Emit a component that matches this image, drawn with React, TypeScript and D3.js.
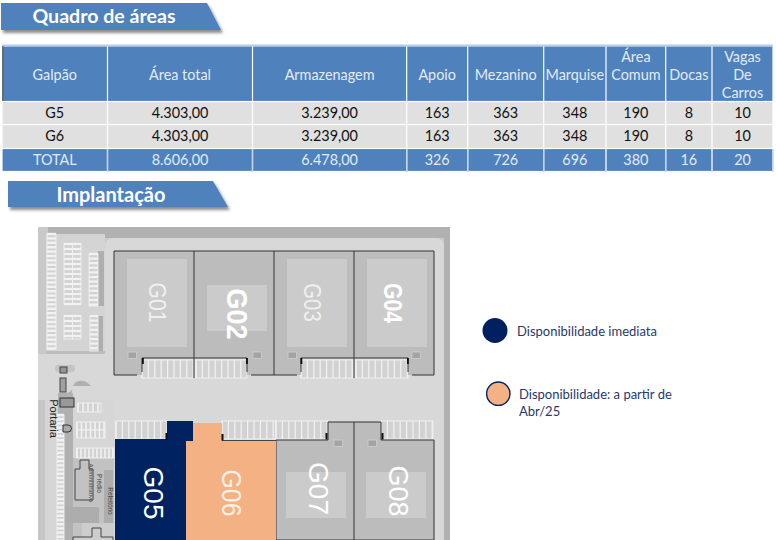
import * as d3 from "d3";
import { useEffect, useRef } from "react";

// Quadro de áreas
const columns = ["Galpão", "Área total", "Armazenagem", "Apoio", "Mezanino", "Marquise", "Área Comum", "Docas", "Vagas De Carros"];
const rowG5 = ["G5", "4.303,00", "3.239,00", "163", "363", "348", "190", "8", "10"];
const rowG6 = ["G6", "4.303,00", "3.239,00", "163", "363", "348", "190", "8", "10"];
const rowTotal = ["TOTAL", "8.606,00", "6.478,00", "326", "726", "696", "380", "16", "20"];

// Implantação
const topBuildings = ["G01", "G02", "G03", "G04"];
const bottomBuildings = ["G05", "G06", "G07", "G08"];
const legendLabels = [["Disponibilidade imediata"], ["Disponibilidade: a partir de", "Abr/25"]];

const width = 776;
const height = 540;
const BLUE = "#4f81bd";
const NAVY = "#002060";
const ORANGE = "#f4b183";
const UI_FONT = "Lato, 'Open Sans', sans-serif";
const PLAN_FONT = "'Liberation Sans', Arial, sans-serif";

const columnEdges = [2, 107.5, 252.5, 406.7, 467.7, 543.7, 606, 665.7, 712, 773];
const rowEdges = [46, 101.5, 124.5, 148.5, 171.5];

export default function App() {
  const ref = useRef<SVGSVGElement>(null);

  useEffect(() => {
    if (!ref.current) return;
    const svg = d3.select(ref.current);
    svg.selectAll("*").remove();

    const defs = svg.append("defs");
    defs.append("filter").attr("id", "ribbonShadow").attr("x", "-5%").attr("y", "-20%").attr("width", "110%").attr("height", "150%")
      .append("feDropShadow").attr("dx", 2).attr("dy", 3).attr("stdDeviation", 1.6).attr("flood-color", "#000").attr("flood-opacity", 0.45);
    defs.append("filter").attr("id", "soft").append("feGaussianBlur").attr("stdDeviation", 0.35);

    const ribbon = (x0: number, x1: number, x2: number, y0: number, y1: number, label: string, tx: number, ty: number, size: number) => {
      svg.append("path").attr("d", `M${x0},${y0}L${x1},${y0}L${x2},${y1}L${x0},${y1}Z`).attr("fill", BLUE).attr("filter", "url(#ribbonShadow)");
      svg.append("text").attr("x", tx).attr("y", ty).attr("text-anchor", "middle").attr("fill", "#fff").attr("font-family", UI_FONT).attr("font-weight", 700).attr("font-size", size).text(label);
    };
    ribbon(1, 207, 221, 3, 30, "Quadro de áreas", 104, 23, 19.6);
    ribbon(8, 213, 228, 181, 207, "Implantação", 111, 202, 20);

    // tabela
    const x = d3.scaleOrdinal<string, number>().domain(columns).range(columnEdges);
    const xEnd = d3.scaleOrdinal<string, number>().domain(columns).range(columnEdges.slice(1));
    const rows = [columns, rowG5, rowG6, rowTotal];
    const table = svg.append("g").attr("font-family", UI_FONT);
    table.append("rect").attr("x", 2).attr("y", 44.5).attr("width", 771).attr("height", 2).attr("fill", "#b8cce4");
    rows.forEach((row, r) => {
      const y0 = rowEdges[r];
      const y1 = rowEdges[r + 1];
      const dark = r === 0 || r === 3;
      row.forEach((cell, c) => {
        const col = columns[c];
        const cx0 = x(col);
        const cx1 = xEnd(col);
        table.append("rect").attr("x", cx0 + 0.6).attr("y", y0 + 0.6).attr("width", cx1 - cx0 - 1.2).attr("height", y1 - y0 - 1.2)
          .attr("fill", dark ? BLUE : "#e0e0e0");
        const lines = r === 0 && cell.includes(" ") && cell !== "Área total" ? cell.split(" ") : [cell];
        const mid = (y0 + y1) / 2 + (r === 0 ? 1.8 : 0);
        lines.forEach((line, i) => {
          // células de várias linhas começam no topo
          const dy = lines.length > 1 ? (i - 1) * 18 : 0;
          table.append("text").attr("x", (cx0 + cx1) / 2).attr("y", mid + dy + 4.6)
            .attr("text-anchor", "middle").attr("font-size", 14.4)
            .attr("fill", dark ? "#e3ebf5" : "#111").text(line);
        });
      });
    });
    table.append("rect").attr("x", 2.2).attr("y", 46).attr("width", 1.2).attr("height", 55).attr("fill", "#555");
    table.selectAll("rect.edge").data(columnEdges.slice(1)).join("rect").attr("class", "edge")
      .attr("x", (d) => d - 0.7).attr("y", 149).attr("width", 1.4).attr("height", 23).attr("fill", "#c5d5ea");

    // planta
    const plan = svg.append("g").attr("filter", "url(#soft)");
    const rect = (x0: number, y0: number, x1: number, y1: number, fill: string, rx = 0) =>
      plan.append("rect").attr("x", x0).attr("y", y0).attr("width", x1 - x0).attr("height", y1 - y0).attr("fill", fill).attr("rx", rx);
    const line = (x0: number, y0: number, x1: number, y1: number, stroke = "#333", w = 1) =>
      plan.append("line").attr("x1", x0).attr("y1", y0).attr("x2", x1).attr("y2", y1).attr("stroke", stroke).attr("stroke-width", w);

    rect(38, 227, 450, 540, "#c9c9c9");
    rect(48, 227, 450, 238, "#b1b1b1");
    rect(48, 238, 91, 243, "#b1b1b1");
    rect(91, 238, 105, 243, "#b8b8b8");
    rect(444, 238, 450, 540, "#b1b1b1");
    rect(105, 238, 444, 560, "#d8d8d8", 8);
    rect(46, 234, 105, 351, "#d4d4d4");
    rect(46, 351, 105, 354, "#bdbdbd");
    rect(38, 354, 105, 400, "#d8d8d8");
    rect(105, 354, 114, 540, "#d8d8d8");
    rect(38, 400, 45, 540, "#c6c6c6");
    rect(45, 400, 114, 540, "#d6d6d6");
    // acesso e pátio à esquerda
    plan.append("path").attr("d", "M58,415V393H66Q72,393 73,386H91Q84,378 76,382Q72,384 72,393H73V465H64V415Z").attr("fill", "#b0b0b0");
    rect(55, 365, 75, 372, "#c4c4c4", 3);
    rect(73, 458, 114, 540, "#c2c2c2");
    rect(64, 465, 73, 540, "#b0b0b0");
    rect(64, 507, 99, 523, "#adadad");
    rect(104, 470, 113, 523, "#adadad");
    rect(82, 523, 114, 540, "#cdcdcd");

    // vagas: blocos de faixas claras
    const stalls = (x0: number, y0: number, x1: number, y1: number, step: number, vertical: boolean, w = 1.2, fill = "#d2d2d2") => {
      rect(x0, y0, x1, y1, fill);
      const n = Math.floor((vertical ? x1 - x0 : y1 - y0) / step);
      d3.range(n + 1).forEach((i) => {
        if (vertical) line(x0 + i * step, y0, x0 + i * step, y1, "#f2f2f2", w);
        else line(x0, y0 + i * step, x1, y0 + i * step, "#f2f2f2", w);
      });
      plan.append("rect").attr("x", x0).attr("y", y0).attr("width", x1 - x0).attr("height", y1 - y0).attr("fill", "none").attr("stroke", "#f2f2f2").attr("stroke-width", 0.9);
    };
    stalls(47, 234, 56, 349, 4.4, false, 2.4);
    rect(98, 251, 104, 306, "#aeaeae");
    rect(98, 316, 103, 351, "#aeaeae");
    stalls(89, 254, 98, 306, 4.6, false, 2.2);
    stalls(90, 316, 98, 351, 4.6, false, 2.2);
    stalls(64, 244, 72.5, 304, 5, false, 2.2);
    stalls(72.5, 244, 81, 304, 5, false, 2.2);
    stalls(64, 316, 72.5, 339, 5, false, 2.2);
    stalls(72.5, 316, 81, 339, 5, false, 2.2);
    stalls(57, 415, 64, 540, 4.2, false, 2.4);
    stalls(78, 403, 101, 412, 5, true, 1.6);
    stalls(77, 422, 105, 430, 4.5, true, 1.6);
    stalls(77, 430, 105, 438, 4.5, true, 1.6);
    stalls(77, 448, 113, 458, 4, true, 1.6);

    // portaria e prédios de apoio
    rect(60, 367, 67, 373, "#949494").attr("stroke", "#444");
    rect(60, 378, 66, 392, "#a0a0a0").attr("stroke", "#444");
    rect(60, 398, 74, 407, "#999").attr("stroke", "#333");
    plan.append("path").attr("d", "M63,425H68A3.5,3.5,0,0,1,68,432H63Z").attr("fill", "#aaa").attr("stroke", "#333");
    plan.append("path").attr("d", "M80,460H89V469H93V500H75V469H80Z").attr("fill", "#c2c2c2").attr("stroke", "#444");
    plan.append("path").attr("d", "M73,540V537H92V528H101V537H113V540").attr("fill", "#cdcdcd").attr("stroke", "#444");

    const rotated = (cx: number, cy: number, label: string, size: number, fill: string, weight = 400, stretch = 1) =>
      svg.append("text").attr("transform", `translate(${cx},${cy}) rotate(90) scale(${stretch},1)`).attr("text-anchor", "middle").attr("dominant-baseline", "central")
        .attr("font-family", PLAN_FONT).attr("font-size", size).attr("font-weight", weight).attr("fill", fill).text(label);

    // galpões de cima
    const topX = d3.scaleBand<string>().domain(topBuildings).range([114, 434]);
    const yTop = 251, yWing = 375, yDock = 358;
    stalls(142, 360, 193, 378, 6.4, true);
    stalls(196, 360, 247, 378, 6.4, true);
    stalls(301, 360, 353, 378, 6.4, true);
    stalls(356, 360, 408, 378, 6.4, true);
    plan.append("path").attr("d", `M114,${yTop}H434V${yWing}H408V${yDock}H301V${yWing}H247V${yDock}H142V${yWing}H114Z`).attr("fill", "#bcbcbc");
    plan.append("path")
      .attr("d", `M137,${yWing}H114V${yTop}H434V${yWing}H412M408,372V${yDock}H301V372M297,${yWing}H251M247,372V${yDock}H142V372`)
      .attr("fill", "none").attr("stroke", "#333");
    topBuildings.forEach((g) => {
      const x0 = topX(g)!;
      const inner = g === "G02" ? [285, 331] : [259, 347];
      rect(x0 + 13, inner[0], x0 + 73, inner[1], "#cbcbcb");
    });
    line(194, yTop, 194, 378);
    line(274, yTop, 274, yWing);
    line(354, yTop, 354, 378);
    [[128, 352], [253, 352], [288, 352], [412, 352]].forEach((d) => rect(d[0], d[1], d[0] + 8.5, d[1] + 6.5, "#a4a4a4").attr("stroke", "#cfcfcf").attr("stroke-width", 0.8));
    [[142, 358], [246, 358], [300.5, 358], [407, 358]].forEach((d) => rect(d[0], d[1], d[0] + 1.8, d[1] + 6, "#111"));

    // galpões de baixo
    const bottomWidths = [71, 90, 78, 80];
    const bottomEdges = [115, ...bottomWidths.map((_, i) => 115 + d3.sum(bottomWidths.slice(0, i + 1)))];
    const bottomX = d3.scaleOrdinal<string, number>().domain(bottomBuildings).range(bottomEdges);
    stalls(116, 421, 167, 439, 6.4, true);
    stalls(222, 421, 276, 439, 6.4, true);
    stalls(276, 421, 328, 439, 6.4, true);
    stalls(381, 421, 433, 439, 6.4, true);
    const yRoof = 440, yNotch = 422;
    plan.append("path").attr("d", `M276,${yRoof}H328V${yNotch}H381V${yRoof}H434V540H276Z`).attr("fill", "#bcbcbc").attr("stroke", "#333");
    line(354, yNotch, 354, 540);
    rect(bottomX("G05"), 439, bottomX("G06"), 540, NAVY);
    rect(167, 421, 193, 441, NAVY);
    rect(bottomX("G06"), 441, bottomX("G07"), 540, ORANGE);
    rect(193, 423, 222, 441, ORANGE);
    rect(222, 440, 276, 441, "#444");
    rect(286, 472, 346, 518, "#cbcbcb");
    rect(366, 472, 426, 518, "#cbcbcb");
    [[334, 440], [368, 440]].forEach((d) => rect(d[0], d[1], d[0] + 8.5, d[1] + 6.5, "#a4a4a4").attr("stroke", "#cfcfcf").attr("stroke-width", 0.8));
    [[165.5, 433], [221.5, 434], [325.5, 433], [381.5, 433]].forEach((d) => rect(d[0], d[1], d[0] + 2, d[1] + 6.5, "#111"));

    rotated(156.5, 302.5, "G01", 24, "#f0f0f0", 400, 0.88);
    rotated(236.5, 314, "G02", 29, "#fff", 700, 0.93);
    rotated(312, 302.5, "G03", 24, "#f0f0f0", 400, 0.85);
    rotated(392.5, 303, "G04", 25, "#fff", 700, 0.85);
    rotated(153, 493, "G05", 28, "#fff", 400, 1);
    rotated(231, 493, "G06", 27, "#fdf1e6", 400, 0.92);
    rotated(318, 488.5, "G07", 28, "#fff", 400, 1);
    rotated(398, 491, "G08", 27, "#fff", 400, 1);
    rotated(54, 418.5, "Portaria", 11, "#222");
    rotated(99, 483.5, "Prédio", 6.5, "#444");
    rotated(91, 483, "Administrativo", 6.2, "#444");
    rotated(110, 501, "Refeitório", 6.4, "#444");

    // legenda
    const legend = svg.append("g").attr("font-family", UI_FONT).attr("font-size", 13).attr("fill", "#27396b");
    legend.append("circle").attr("cx", 495).attr("cy", 330.5).attr("r", 12.5).attr("fill", NAVY);
    legend.append("text").attr("x", 517).attr("y", 336).text(legendLabels[0][0]);
    legend.append("circle").attr("cx", 498.3).attr("cy", 393.7).attr("r", 11.7).attr("fill", ORANGE).attr("stroke", NAVY).attr("stroke-width", 1.4);
    legendLabels[1].forEach((t, i) => legend.append("text").attr("x", 519).attr("y", 399 + i * 17).text(t));
  }, []);

  return <svg ref={ref} width={width} height={height} style={{ position: "absolute", left: 0, top: 0, display: "block", background: "#fff" }} />;
}
